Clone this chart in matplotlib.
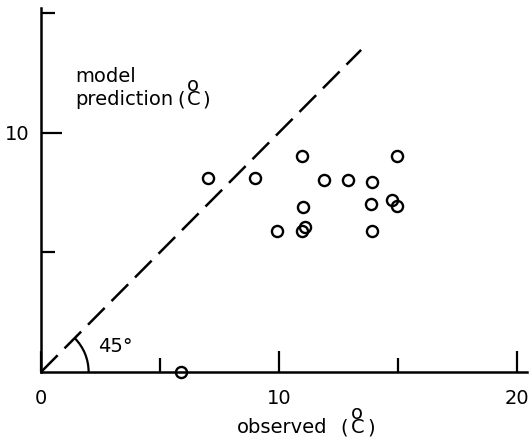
import matplotlib
matplotlib.use("Agg")
import matplotlib.pyplot as plt
from matplotlib.patches import Arc
from matplotlib.ticker import FixedLocator, FixedFormatter

plt.rcParams['font.family'] = ['DejaVu Sans']
plt.rcParams['lines.scale_dashes'] = False

# Observed vs. modelled temperatures (deg C)
observed = [5.9, 7.0, 9.0, 9.9, 10.95, 11.0, 10.95, 11.1, 11.9, 12.9, 13.9, 13.85, 13.9, 14.75, 14.95, 14.95]
predicted = [0.0, 8.1, 8.1, 5.9, 9.0, 6.9, 5.9, 6.05, 8.0, 8.0, 7.95, 7.0, 5.9, 7.2, 6.95, 9.0]

x_major = [0, 10, 20]
x_labels = ["0", "10", "20"]
y_major = [10]
y_labels = ["10"]
minor_ticks = [5, 15]
line_end = 13.45

W, H = 532, 443
FS = 14

fig = plt.figure(figsize=(W / 100, H / 100), dpi=100)
ax = fig.add_axes([0.0771, 0.1603, 0.9126, 0.8217])
ax.set_xlim(0, 20.4)
ax.set_ylim(0, 15.2)

for side in ("top", "right"):
    ax.spines[side].set_visible(False)
for side in ("left", "bottom"):
    ax.spines[side].set_linewidth(1.8)

ax.xaxis.set_major_locator(FixedLocator(x_major))
ax.xaxis.set_major_formatter(FixedFormatter(x_labels))
ax.xaxis.set_minor_locator(FixedLocator(minor_ticks))
ax.yaxis.set_major_locator(FixedLocator(y_major))
ax.yaxis.set_major_formatter(FixedFormatter(y_labels))
ax.yaxis.set_minor_locator(FixedLocator(minor_ticks))
ax.tick_params(which="major", direction="in", length=15, width=1.6, labelsize=FS)
ax.tick_params(which="minor", direction="in", length=10, width=1.6)
ax.tick_params(axis="x", which="major", pad=12)
ax.tick_params(axis="y", which="major", pad=8)

# 1:1 line
ax.plot([0, line_end], [0, line_end], color="black", lw=1.8, dashes=(17, 7))

# 45 degree angle marker
ax.add_patch(Arc((0, 0), 4.0, 4.0, theta1=0, theta2=45, color="black", lw=1.6))
ax.text(2.4, 0.84, "45°", fontsize=FS, ha="left", va="baseline")

ax.plot(observed, predicted, "o", ms=8, mfc="none", mec="black", mew=1.7, clip_on=False)

renderer = fig.canvas.get_renderer()


def px_text(x, y, s, **kw):
    # place text by pixel position measured from the top-left corner
    kw.setdefault("ha", "left")
    kw.setdefault("va", "baseline")
    return fig.text(x / W, 1 - y / H, s, fontsize=FS, **kw)


def unit_label(x, y, word, paren_x, gap=2):
    # "word (C)" with the o stacked straight over the C
    px_text(x, y, word)
    t = px_text(paren_x, y, "(")
    x1 = t.get_window_extent(renderer).x1 + gap
    c = px_text(x1, y, "o\nC", multialignment="center", linespacing=0.68)
    px_text(c.get_window_extent(renderer).x1 + gap, y, ")")


px_text(75, 82, "model")
unit_label(75, 105, "prediction", 177)
unit_label(237, 433, "observed", 340, gap=3)

fig.savefig("out.png", dpi=100)
